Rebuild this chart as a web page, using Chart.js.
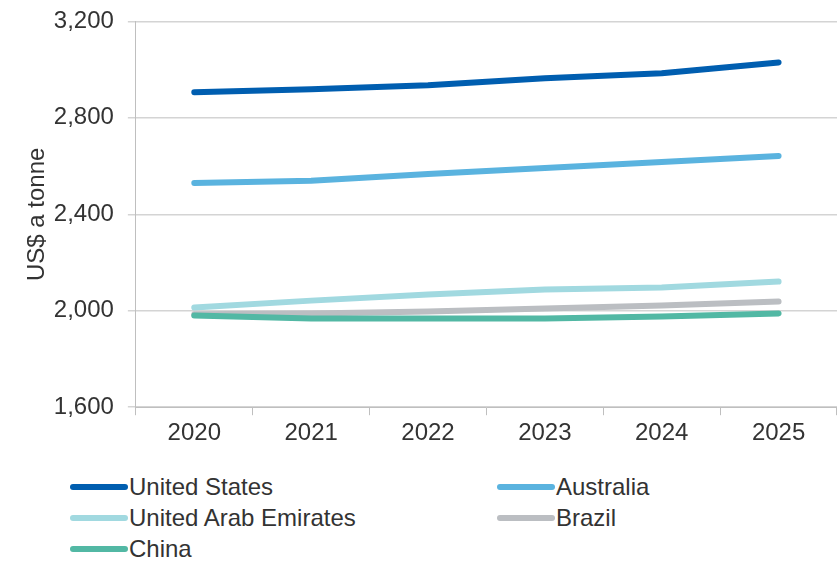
<!DOCTYPE html>
<html>
<head>
<meta charset="utf-8">
<script src="https://cdn.jsdelivr.net/npm/chart.js@4.4.0/dist/chart.umd.min.js"></script>
<style>
  body { margin: 0; background: #fff; font-family: "Liberation Sans", Arial, sans-serif; }
  #wrap { position: relative; width: 837px; height: 562px; overflow: hidden; }
  #box { position: absolute; left: 0; top: -7px; width: 837px; height: 459px; }
  #legend { position: absolute; left: 70px; top: 472px; width: 760px; }
  .item { position: absolute; display: flex; align-items: center; font-size: 24px; color: #333; line-height: 30px; }
  .swatch { width: 58px; height: 6px; border-radius: 3px; margin-right: 1px; }
</style>
</head>
<body>
<div id="wrap">
  <div id="box"><canvas id="chart"></canvas></div>
  <div id="legend"></div>
</div>
<script>
const years = ["2020", "2021", "2022", "2023", "2024", "2025"];
const unitedStates = [2906, 2919, 2935, 2964, 2985, 3030];
const australia = [2530, 2539, 2567, 2592, 2617, 2642];
const uae = [2013, 2042, 2067, 2088, 2096, 2121];
const brazil = [1985, 1989, 1997, 2009, 2022, 2038];
const china = [1980, 1968, 1968, 1968, 1976, 1989];
const yTicks = [1600, 2000, 2400, 2800, 3200];

const series = [
  { label: "China", data: china, color: "#52b8a4" },
  { label: "Brazil", data: brazil, color: "#bbbec2" },
  { label: "United Arab Emirates", data: uae, color: "#a1d9e0" },
  { label: "Australia", data: australia, color: "#5ab3df" },
  { label: "United States", data: unitedStates, color: "#005eb0" },
];

const fontMain = { family: "Liberation Sans", size: 24 };

let chart = new Chart(document.getElementById("chart"), {
  type: "line",
  data: {
    labels: years,
    datasets: series.map((s) => ({
      label: s.label,
      data: s.data,
      borderColor: s.color,
      backgroundColor: s.color,
      borderWidth: 6,
      borderCapStyle: "round",
      borderJoinStyle: "round",
      pointRadius: 0,
      tension: 0,
    })),
  },
  options: {
    responsive: true,
    maintainAspectRatio: false,
    animation: false,
    layout: { padding: { top: 1, right: 0, left: 0, bottom: 0 } },
    plugins: {
      legend: { display: false },
      tooltip: { enabled: false },
    },
    scales: {
      x: {
        offset: true,
        grid: {
          offset: true,
          drawOnChartArea: false,
          color: "#bfbfbf",
          tickLength: 8,
        },
        border: { color: "#bfbfbf", width: 1 },
        ticks: {
          color: "#333",
          font: fontMain,
          padding: 4,
        },
      },
      y: {
        min: 1600,
        max: 3200,
        afterBuildTicks: (axis) => {
          axis.ticks = yTicks.map((v) => ({ value: v }));
        },
        grid: { color: "#d4d4d4", tickLength: 8, lineWidth: 1.5 },
        border: { color: "#bfbfbf", width: 1 },
        ticks: {
          color: "#333",
          font: fontMain,
          padding: 14,
          callback: (v) => v.toLocaleString("en-US"),
        },
        title: {
          display: true,
          text: "US$ a tonne",
          color: "#333",
          font: fontMain,
          padding: { top: 23, bottom: -12 },
        },
      },
    },
  },
});

// legend in two columns like the original
const legendOrder = ["United States", "Australia", "United Arab Emirates", "Brazil", "China"];
const legendPos = [[0, 0], [427, 0], [0, 31], [427, 31], [0, 62]];
const legend = document.getElementById("legend");
legendOrder.forEach((name, i) => {
  const s = series.find((x) => x.label === name);
  const el = document.createElement("div");
  el.className = "item";
  el.style.left = legendPos[i][0] + "px";
  el.style.top = legendPos[i][1] + "px";
  el.innerHTML = '<span class="swatch" style="background:' + s.color + '"></span>' + s.label;
  legend.appendChild(el);
});
</script>
</body>
</html>
